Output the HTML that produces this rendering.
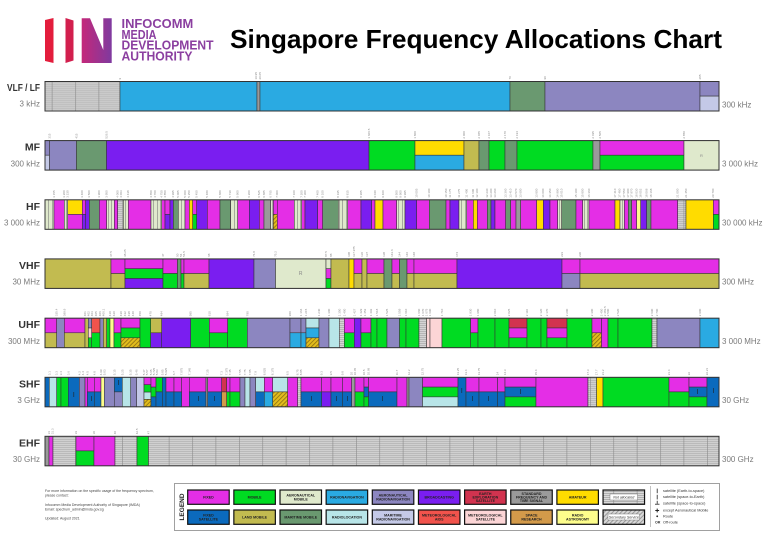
<!DOCTYPE html>
<html><head><meta charset="utf-8"><title>Singapore Frequency Allocations Chart</title>
<style>
html,body{margin:0;padding:0;background:#fff}
svg{display:block;font-family:"Liberation Sans",Arial,sans-serif}
.F{fill:#e42ee6}.M{fill:#00db22}.AM{fill:#dfe9cc}.RN{fill:#2aaae2}.AR{fill:#8c86c0}.B{fill:#7a1ef0}.EE{fill:#d2334f}.SF{fill:#9a9a9a}.A{fill:#ffdc00}.FS{fill:#0b6abd}.LM{fill:#c2bb50}.MM{fill:#6a9970}.RL{fill:#b8e5e8}.MR{fill:#c4c9e7}.MA{fill:#f1534c}.MS{fill:#fcd5d6}.SR{fill:#d39a4a}.RA{fill:#fdfd8c}.NA{fill:url(#na)}.SS{fill:url(#ss)}.AMs{fill:url(#ams)}
.bar rect{stroke:#333;stroke-width:.55}
.t{font-size:3px;fill:#8a8a8a}
.rl{font-size:10.5px;font-weight:bold;fill:#333;text-anchor:end}
.fl{font-size:8px;fill:#7a7a7a;text-anchor:end}
.fr{font-size:8px;fill:#7a7a7a}
.lg rect.sw{stroke:#111;stroke-width:1.2}
.lt{font-size:3.6px;font-weight:bold;fill:#222;text-anchor:middle}
.nt{font-size:3.8px;fill:#333}
.it{font-size:3.5px;fill:#444}
</style></head><body>
<svg width="768" height="543" viewBox="0 0 768 543" xmlns="http://www.w3.org/2000/svg">
<defs>
<pattern id="na" x="5" width="23.4" height="2" patternUnits="userSpaceOnUse"><rect width="23.4" height="2" fill="#dadada"/><rect y="1" width="23.4" height="0.8" fill="#a6a6a6"/><rect width="0.6" height="2" fill="#8a8a8a"/></pattern>
<pattern id="ss" width="3" height="3" patternUnits="userSpaceOnUse" patternTransform="rotate(45)"><rect width="3" height="3" fill="#e2bd1c"/><rect width="0.8" height="3" fill="#8b6d12"/></pattern>
<pattern id="sg" width="3" height="3" patternUnits="userSpaceOnUse" patternTransform="rotate(45)"><rect width="3" height="3" fill="#d8d8d8"/><rect width="0.8" height="3" fill="#8a8a8a"/></pattern>
<pattern id="ams" width="3.5" height="10" patternUnits="userSpaceOnUse"><rect width="3.5" height="10" fill="#dfe9cc"/><rect x="3" width="0.5" height="10" fill="#6b6b6b"/></pattern>
<linearGradient id="mg" x1="0" y1="0" x2="1" y2="0"><stop offset="0" stop-color="#c4287a"/><stop offset="1" stop-color="#7f3a9f"/></linearGradient>
</defs>

<!-- Logo -->
<polygon points="45,20 53.5,18 53.5,63 45,61" fill="#e31d3c"/>
<polygon points="65.5,18 73.5,20.5 73.5,60.5 65.5,63" fill="#d21f4e"/>
<polygon points="81.7,18.3 90,18.3 103.3,50 103.3,18.3 111.7,18.3 111.7,63 81.7,63" fill="url(#mg)"/>
<g font-weight="bold" font-size="13" fill="#8b3fa0">
<text x="121.5" y="28" textLength="71.7" lengthAdjust="spacingAndGlyphs">INFOCOMM</text>
<text x="121.5" y="38.8" textLength="35" lengthAdjust="spacingAndGlyphs">MEDIA</text>
<text x="121.5" y="49.6" textLength="92" lengthAdjust="spacingAndGlyphs">DEVELOPMENT</text>
<text x="121.5" y="60.4" textLength="71" lengthAdjust="spacingAndGlyphs">AUTHORITY</text>
</g>
<text x="230" y="48" font-size="26" font-weight="bold" fill="#000" textLength="492" lengthAdjust="spacingAndGlyphs">Singapore Frequency Allocations Chart</text>

<!-- Row labels -->
<text class="rl" x="40" y="91" textLength="33" lengthAdjust="spacingAndGlyphs">VLF / LF</text>
<text class="fl" x="40" y="106.5">3 kHz</text>
<text class="fr" x="722" y="107.3">300 kHz</text>
<text class="rl" x="40" y="150.6">MF</text>
<text class="fl" x="40" y="166.4">300 kHz</text>
<text class="fr" x="722" y="166.4">3 000 kHz</text>
<text class="rl" x="40" y="209.8">HF</text>
<text class="fl" x="40" y="225.6">3 000 kHz</text>
<text class="fr" x="722" y="225.6">30 000 kHz</text>
<text class="rl" x="40" y="268.9">VHF</text>
<text class="fl" x="40" y="284.7">30 MHz</text>
<text class="fr" x="722" y="284.7">300 MHz</text>
<text class="rl" x="40" y="328.2">UHF</text>
<text class="fl" x="40" y="344">300 MHz</text>
<text class="fr" x="722" y="344">3 000 MHz</text>
<text class="rl" x="40" y="387.3">SHF</text>
<text class="fl" x="40" y="403.1">3 GHz</text>
<text class="fr" x="722" y="403.1">30 GHz</text>
<text class="rl" x="40" y="446.3">EHF</text>
<text class="fl" x="40" y="462.1">30 GHz</text>
<text class="fr" x="722" y="462.1">300 GHz</text>

<!-- VLF/LF -->
<g class="bar" transform="translate(0,81.5)">
<rect class="NA" x="45" width="75" height="29.5"/>
<rect class="RN" x="120" width="137" height="29.5"/>
<rect class="SF" x="257" width="3" height="29.5"/>
<rect class="RN" x="260" width="250" height="29.5"/>
<rect class="MM" x="510" width="35" height="29.5"/>
<rect class="AR" x="545" width="155" height="29.5"/>
<rect class="AR" x="700" width="19" height="14.6"/>
<rect class="MR" x="700" y="14.6" width="19" height="14.9"/>
<rect x="45" width="674" height="29.5" fill="none" style="stroke-width:1"/>
</g>
<g class="t">
<text transform="translate(121,79.5) rotate(-90)">9</text>
<text transform="translate(257,79.5) rotate(-90)">19.95</text>
<text transform="translate(261,79.5) rotate(-90)">20.05</text>
<text transform="translate(511,79.5) rotate(-90)">70</text>
<text transform="translate(546,79.5) rotate(-90)">90</text>
<text transform="translate(701,79.5) rotate(-90)">285</text>
</g>

<!-- MF -->
<g class="bar" transform="translate(0,140.6)">
<rect class="AR" x="45" width="4.5" height="14.6"/>
<rect class="MR" x="45" y="14.6" width="4.5" height="14.9"/>
<rect class="AR" x="49.5" width="27" height="29.5"/>
<rect class="MM" x="76.5" width="30" height="29.5"/>
<rect class="B" x="106.5" width="262.5" height="29.5"/>
<rect class="M" x="369" width="46" height="29.5"/>
<rect class="A" x="415" width="49" height="14.6"/>
<rect class="RN" x="415" y="14.6" width="49" height="14.9"/>
<rect class="LM" x="464" width="15" height="29.5"/>
<rect class="MM" x="479" width="10" height="29.5"/>
<rect class="M" x="489" width="16" height="29.5"/>
<rect class="MM" x="505" width="12" height="29.5"/>
<rect class="M" x="517" width="76" height="29.5"/>
<rect class="SF" x="593" width="7" height="29.5"/>
<rect class="F" x="600" width="84" height="14.6"/>
<rect class="M" x="600" y="14.6" width="84" height="14.9"/>
<rect class="AM" x="684" width="35" height="29.5"/>
<rect x="45" width="674" height="29.5" fill="none" style="stroke-width:1"/>
</g>
<text x="701.5" y="157" font-size="4" fill="#888" text-anchor="middle">R</text>
<g class="t">
<text transform="translate(50.5,138.6) rotate(-90)">315</text>
<text transform="translate(77.5,138.6) rotate(-90)">415</text>
<text transform="translate(107.5,138.6) rotate(-90)">526.5</text>
<text transform="translate(370,138.6) rotate(-90)">1 606.5</text>
<text transform="translate(416,138.6) rotate(-90)">1 800</text>
<text transform="translate(465,138.6) rotate(-90)">2 000</text>
<text transform="translate(480,138.6) rotate(-90)">2 065</text>
<text transform="translate(490,138.6) rotate(-90)">2 107</text>
<text transform="translate(506,138.6) rotate(-90)">2 170</text>
<text transform="translate(518,138.6) rotate(-90)">2 194</text>
<text transform="translate(594,138.6) rotate(-90)">2 495</text>
<text transform="translate(601,138.6) rotate(-90)">2 505</text>
<text transform="translate(685,138.6) rotate(-90)">2 850</text>
</g>

<!-- HF -->
<g class="bar" transform="translate(0,199.8)">
<rect class="AMs" x="45" width="9" height="29.5"/>
<rect class="F" x="54" width="10.3" height="29.5"/>
<rect class="AMs" x="64.3" width="3.4" height="29.5"/>
<rect class="A" x="67.7" width="14.6" height="14.6"/>
<rect class="F" x="67.7" y="14.6" width="14.6" height="14.9"/>
<rect class="F" x="82.3" width="3.4" height="14.6"/>
<rect class="B" x="82.3" y="14.6" width="3.4" height="14.9"/>
<rect class="B" x="85.7" width="3.6" height="29.5"/>
<rect class="MM" x="89.3" width="10" height="29.5"/>
<rect class="F" x="99.3" width="7.4" height="29.5"/>
<rect class="AMs" x="106.7" width="7.6" height="29.5"/>
<rect class="F" x="114.3" width="3.4" height="29.5"/>
<rect class="NA" x="117.7" width="5.6" height="29.5"/>
<rect class="AMs" x="123.3" width="5" height="29.5"/>
<rect class="F" x="128.3" width="22.7" height="29.5"/>
<rect class="AMs" x="151" width="10.7" height="29.5"/>
<rect class="F" x="161.7" width="3.3" height="29.5"/>
<rect class="F" x="165" width="5" height="14.6"/>
<rect class="B" x="165" y="14.6" width="5" height="14.9"/>
<rect class="B" x="170" width="3.3" height="29.5"/>
<rect class="MM" x="173.3" width="5" height="29.5"/>
<rect class="AMs" x="178.3" width="6.7" height="29.5"/>
<rect class="F" x="185" width="4.3" height="29.5"/>
<rect class="A" x="189.3" width="3.4" height="29.5"/>
<rect class="F" x="192.7" width="4" height="14.6"/>
<rect class="M" x="192.7" y="14.6" width="4" height="14.9"/>
<rect class="B" x="196.7" width="10.6" height="29.5"/>
<rect class="F" x="207.3" width="12.7" height="29.5"/>
<rect class="MM" x="220" width="10.3" height="29.5"/>
<rect class="AMs" x="230.3" width="7.4" height="29.5"/>
<rect class="F" x="237.7" width="11.6" height="29.5"/>
<rect class="B" x="249.3" width="10" height="29.5"/>
<rect class="F" x="259.3" width="4.7" height="29.5"/>
<rect class="SF" x="264" width="6.7" height="29.5"/>
<rect class="AMs" x="270.7" width="2.6" height="29.5"/>
<rect class="F" x="273.3" width="4" height="14.6"/>
<rect class="SS" x="273.3" y="14.6" width="4" height="14.9"/>
<rect class="F" x="277.3" width="17" height="29.5"/>
<rect class="AMs" x="294.3" width="7.4" height="29.5"/>
<rect class="F" x="301.7" width="3.3" height="29.5"/>
<rect class="B" x="305" width="12.7" height="29.5"/>
<rect class="F" x="317.7" width="5" height="29.5"/>
<rect class="MM" x="322.7" width="15.6" height="29.5"/>
<rect class="AMs" x="338.3" width="9.4" height="29.5"/>
<rect class="F" x="347.7" width="13.3" height="29.5"/>
<rect class="B" x="361" width="10.7" height="29.5"/>
<rect class="F" x="371.7" width="3.3" height="29.5"/>
<rect class="A" x="375" width="8" height="29.5"/>
<rect class="F" x="383" width="13.7" height="29.5"/>
<rect class="AMs" x="396.7" width="8.3" height="29.5"/>
<rect class="B" x="405" width="11.7" height="29.5"/>
<rect class="F" x="416.7" width="12.6" height="29.5"/>
<rect class="MM" x="429.3" width="16.7" height="29.5"/>
<rect class="F" x="446" width="4" height="29.5"/>
<rect class="B" x="450" width="9" height="29.5"/>
<rect class="AMs" x="459" width="7.7" height="29.5"/>
<rect class="F" x="466.7" width="6.6" height="29.5"/>
<rect class="A" x="473.3" width="4" height="29.5"/>
<rect class="F" x="477.3" width="10" height="29.5"/>
<rect class="MM" x="487.3" width="3.7" height="29.5"/>
<rect class="B" x="491" width="4" height="29.5"/>
<rect class="F" x="495" width="10.7" height="29.5"/>
<rect class="MM" x="505.7" width="5" height="29.5"/>
<rect class="F" x="510.7" width="5.3" height="29.5"/>
<rect class="SF" x="516" width="4.7" height="29.5"/>
<rect class="F" x="520.7" width="16" height="29.5"/>
<rect class="A" x="536.7" width="6.6" height="29.5"/>
<rect class="B" x="543.3" width="6.7" height="29.5"/>
<rect class="F" x="550" width="7.7" height="29.5"/>
<rect class="AMs" x="557.7" width="4" height="29.5"/>
<rect class="MM" x="561.7" width="14.3" height="29.5"/>
<rect class="F" x="576" width="6.7" height="29.5"/>
<rect class="AMs" x="582.7" width="6.3" height="29.5"/>
<rect class="F" x="589" width="26" height="29.5"/>
<rect class="A" x="615" width="5" height="29.5"/>
<rect class="AMs" x="620" width="4.3" height="29.5"/>
<rect class="F" x="624.3" width="4" height="29.5"/>
<rect class="MM" x="628.3" width="3.4" height="29.5"/>
<rect class="F" x="631.7" width="5" height="29.5"/>
<rect class="RA" x="636.7" width="4" height="29.5"/>
<rect class="B" x="640.7" width="6" height="29.5"/>
<rect class="MM" x="646.7" width="4.3" height="29.5"/>
<rect class="F" x="651" width="26.7" height="29.5"/>
<rect class="NA" x="677.7" width="8.3" height="29.5"/>
<rect class="A" x="686" width="27.3" height="29.5"/>
<rect class="F" x="713.3" width="5.7" height="14.6"/>
<rect class="M" x="713.3" y="14.6" width="5.7" height="14.9"/>
<rect x="45" width="674" height="29.5" fill="none" style="stroke-width:1"/>
</g>
<g class="t">
<text transform="translate(55,197.8) rotate(-90)">3 155</text>
<text transform="translate(65,197.8) rotate(-90)">3 200</text>
<text transform="translate(68.5,197.8) rotate(-90)">3 230</text>
<text transform="translate(83,197.8) rotate(-90)">3 400</text>
<text transform="translate(90,197.8) rotate(-90)">3 500</text>
<text transform="translate(100,197.8) rotate(-90)">3 900</text>
<text transform="translate(107.5,197.8) rotate(-90)">3 950</text>
<text transform="translate(118.5,197.8) rotate(-90)">4 000</text>
<text transform="translate(122,197.8) rotate(-90)">4 063</text>
<text transform="translate(129,197.8) rotate(-90)">4 438</text>
<text transform="translate(152,197.8) rotate(-90)">4 650</text>
<text transform="translate(156,197.8) rotate(-90)">4 700</text>
<text transform="translate(162.5,197.8) rotate(-90)">4 750</text>
<text transform="translate(166,197.8) rotate(-90)">4 850</text>
<text transform="translate(174,197.8) rotate(-90)">4 995</text>
<text transform="translate(179,197.8) rotate(-90)">5 005</text>
<text transform="translate(186,197.8) rotate(-90)">5 060</text>
<text transform="translate(190,197.8) rotate(-90)">5 250</text>
<text transform="translate(197.5,197.8) rotate(-90)">5 450</text>
<text transform="translate(208,197.8) rotate(-90)">5 480</text>
<text transform="translate(221,197.8) rotate(-90)">5 680</text>
<text transform="translate(231,197.8) rotate(-90)">5 730</text>
<text transform="translate(238.5,197.8) rotate(-90)">5 900</text>
<text transform="translate(250,197.8) rotate(-90)">6 200</text>
<text transform="translate(260,197.8) rotate(-90)">6 525</text>
<text transform="translate(265,197.8) rotate(-90)">6 685</text>
<text transform="translate(271.5,197.8) rotate(-90)">6 765</text>
<text transform="translate(278,197.8) rotate(-90)">7 000</text>
<text transform="translate(295,197.8) rotate(-90)">7 100</text>
<text transform="translate(302.5,197.8) rotate(-90)">7 200</text>
<text transform="translate(306,197.8) rotate(-90)">7 300</text>
<text transform="translate(318.5,197.8) rotate(-90)">7 400</text>
<text transform="translate(323.5,197.8) rotate(-90)">8 100</text>
<text transform="translate(339,197.8) rotate(-90)">8 195</text>
<text transform="translate(348.5,197.8) rotate(-90)">8 815</text>
<text transform="translate(362,197.8) rotate(-90)">8 965</text>
<text transform="translate(376,197.8) rotate(-90)">9 040</text>
<text transform="translate(384,197.8) rotate(-90)">9 400</text>
<text transform="translate(397.5,197.8) rotate(-90)">9 500</text>
<text transform="translate(401.5,197.8) rotate(-90)">9 900</text>
<text transform="translate(406,197.8) rotate(-90)">9 995</text>
<text transform="translate(417.5,197.8) rotate(-90)">10 005</text>
<text transform="translate(430,197.8) rotate(-90)">10 100</text>
<text transform="translate(447,197.8) rotate(-90)">10 150</text>
<text transform="translate(451,197.8) rotate(-90)">11 175</text>
<text transform="translate(460,197.8) rotate(-90)">11 275</text>
<text transform="translate(467.5,197.8) rotate(-90)">11 400</text>
<text transform="translate(474,197.8) rotate(-90)">11 600</text>
<text transform="translate(478,197.8) rotate(-90)">12 100</text>
<text transform="translate(488,197.8) rotate(-90)">12 230</text>
<text transform="translate(492,197.8) rotate(-90)">13 200</text>
<text transform="translate(496,197.8) rotate(-90)">13 260</text>
<text transform="translate(506.5,197.8) rotate(-90)">13 360</text>
<text transform="translate(511.5,197.8) rotate(-90)">13 410</text>
<text transform="translate(517,197.8) rotate(-90)">13 570</text>
<text transform="translate(521.5,197.8) rotate(-90)">13 600</text>
<text transform="translate(537.5,197.8) rotate(-90)">13 800</text>
<text transform="translate(544,197.8) rotate(-90)">14 000</text>
<text transform="translate(551,197.8) rotate(-90)">14 350</text>
<text transform="translate(558.5,197.8) rotate(-90)">14 990</text>
<text transform="translate(562.5,197.8) rotate(-90)">15 010</text>
<text transform="translate(577,197.8) rotate(-90)">15 100</text>
<text transform="translate(583.5,197.8) rotate(-90)">15 800</text>
<text transform="translate(590,197.8) rotate(-90)">16 360</text>
<text transform="translate(616,197.8) rotate(-90)">17 410</text>
<text transform="translate(620.5,197.8) rotate(-90)">17 480</text>
<text transform="translate(625,197.8) rotate(-90)">17 550</text>
<text transform="translate(629,197.8) rotate(-90)">17 900</text>
<text transform="translate(632.5,197.8) rotate(-90)">17 970</text>
<text transform="translate(637.5,197.8) rotate(-90)">18 030</text>
<text transform="translate(641.5,197.8) rotate(-90)">18 052</text>
<text transform="translate(647.5,197.8) rotate(-90)">18 068</text>
<text transform="translate(652,197.8) rotate(-90)">18 168</text>
<text transform="translate(678.5,197.8) rotate(-90)">21 000</text>
<text transform="translate(687,197.8) rotate(-90)">21 450</text>
<text transform="translate(714,197.8) rotate(-90)">29 700</text>
</g>

<!-- VHF -->
<g class="bar" transform="translate(0,258.9)">
<rect class="LM" x="45" width="66" height="29.5"/>
<rect class="F" x="111" width="14" height="14.6"/>
<rect class="LM" x="111" y="14.6" width="14" height="14.9"/>
<rect class="F" x="125" width="38" height="9.8"/>
<rect class="M" x="125" y="9.8" width="38" height="9.8"/>
<rect class="B" x="125" y="19.6" width="38" height="9.9"/>
<rect class="F" x="163" width="14.5" height="14.6"/>
<rect class="M" x="163" y="14.6" width="14.5" height="14.9"/>
<rect class="MM" x="177.5" width="3.5" height="29.5"/>
<rect class="F" x="181" width="3" height="14.6"/>
<rect class="M" x="181" y="14.6" width="3" height="14.9"/>
<rect class="F" x="184" width="25" height="14.6"/>
<rect class="LM" x="184" y="14.6" width="25" height="14.9"/>
<rect class="B" x="209" width="45" height="29.5"/>
<rect class="AR" x="254" width="21.5" height="29.5"/>
<rect class="AM" x="275.5" width="50.5" height="29.5"/>
<rect class="AM" x="326" width="5" height="9.8"/>
<rect class="F" x="326" y="9.8" width="5" height="9.8"/>
<rect class="M" x="326" y="19.6" width="5" height="9.9"/>
<rect class="LM" x="331" width="18" height="29.5"/>
<rect class="A" x="349" width="5" height="29.5"/>
<rect class="F" x="354" width="8" height="14.6"/>
<rect class="LM" x="354" y="14.6" width="8" height="14.9"/>
<rect class="LM" x="362" width="5" height="29.5"/>
<rect class="F" x="367" width="17" height="14.6"/>
<rect class="LM" x="367" y="14.6" width="17" height="14.9"/>
<rect class="MM" x="384" width="8" height="29.5"/>
<rect class="F" x="392" width="7.5" height="14.6"/>
<rect class="LM" x="392" y="14.6" width="7.5" height="14.9"/>
<rect class="MM" x="399.5" width="7.5" height="29.5"/>
<rect class="F" x="407" width="7" height="14.6"/>
<rect class="LM" x="407" y="14.6" width="7" height="14.9"/>
<rect class="F" x="414" width="43" height="14.6"/>
<rect class="LM" x="414" y="14.6" width="43" height="14.9"/>
<rect class="B" x="457" width="105" height="29.5"/>
<rect class="F" x="562" width="18" height="14.6"/>
<rect class="AR" x="562" y="14.6" width="18" height="14.9"/>
<rect class="F" x="580" width="139" height="14.6"/>
<rect class="LM" x="580" y="14.6" width="139" height="14.9"/>
<rect x="45" width="674" height="29.5" fill="none" style="stroke-width:1"/>
</g>
<text x="300.7" y="275" font-size="5" fill="#888" text-anchor="middle">R</text>
<g class="t">
<text transform="translate(112,256.9) rotate(-90)">37.5</text>
<text transform="translate(126,256.9) rotate(-90)">38.25</text>
<text transform="translate(164,256.9) rotate(-90)">47</text>
<text transform="translate(178.5,256.9) rotate(-90)">50</text>
<text transform="translate(182,256.9) rotate(-90)">54</text>
<text transform="translate(185,256.9) rotate(-90)">54.5</text>
<text transform="translate(210,256.9) rotate(-90)">68</text>
<text transform="translate(255,256.9) rotate(-90)">74.8</text>
<text transform="translate(276.5,256.9) rotate(-90)">75.2</text>
<text transform="translate(327,256.9) rotate(-90)">87.5</text>
<text transform="translate(332,256.9) rotate(-90)">88</text>
<text transform="translate(350,256.9) rotate(-90)">108</text>
<text transform="translate(355,256.9) rotate(-90)">117.975</text>
<text transform="translate(363,256.9) rotate(-90)">136</text>
<text transform="translate(368,256.9) rotate(-90)">137</text>
<text transform="translate(385,256.9) rotate(-90)">138</text>
<text transform="translate(393,256.9) rotate(-90)">143.6</text>
<text transform="translate(400.5,256.9) rotate(-90)">144</text>
<text transform="translate(408,256.9) rotate(-90)">146</text>
<text transform="translate(415,256.9) rotate(-90)">148</text>
<text transform="translate(458,256.9) rotate(-90)">174</text>
<text transform="translate(563,256.9) rotate(-90)">223</text>
<text transform="translate(581,256.9) rotate(-90)">230</text>
</g>

<!-- UHF -->
<g class="bar" transform="translate(0,318.2)">
<rect class="F" x="45" width="11.7" height="14.6"/>
<rect class="LM" x="45" y="14.6" width="11.7" height="14.9"/>
<rect class="AR" x="56.7" width="7.6" height="29.5"/>
<rect class="F" x="64.3" width="20.7" height="14.6"/>
<rect class="LM" x="64.3" y="14.6" width="20.7" height="14.9"/>
<rect class="LM" x="85" width="3.3" height="29.5"/>
<rect class="AR" x="88.3" width="3.4" height="9.8"/>
<rect class="MS" x="88.3" y="9.8" width="3.4" height="9.8"/>
<rect class="M" x="88.3" y="19.6" width="3.4" height="9.9"/>
<rect class="MA" x="91.7" width="8.3" height="14.6"/>
<rect class="M" x="91.7" y="14.6" width="8.3" height="14.9"/>
<rect class="AR" x="100" width="3.3" height="29.5"/>
<rect class="LM" x="103.3" width="3.4" height="29.5"/>
<rect class="M" x="106.7" width="3.3" height="29.5"/>
<rect class="RA" x="110" width="4" height="29.5"/>
<rect class="F" x="114" width="7" height="14.6"/>
<rect class="M" x="114" y="14.6" width="7" height="14.9"/>
<rect class="F" x="121" width="19" height="9.8"/>
<rect class="M" x="121" y="9.8" width="19" height="9.8"/>
<rect class="SS" x="121" y="19.6" width="19" height="9.9"/>
<rect class="M" x="140" width="10.7" height="29.5"/>
<rect class="LM" x="150.7" width="11" height="14.6"/>
<rect class="B" x="150.7" y="14.6" width="11" height="14.9"/>
<rect class="B" x="161.7" width="29" height="29.5"/>
<rect class="M" x="190.7" width="18.6" height="29.5"/>
<rect class="F" x="209.3" width="18.4" height="14.6"/>
<rect class="M" x="209.3" y="14.6" width="18.4" height="14.9"/>
<rect class="M" x="227.7" width="19.6" height="29.5"/>
<rect class="AR" x="247.3" width="42.7" height="29.5"/>
<rect class="AR" x="290" width="11" height="14.6"/>
<rect class="RN" x="290" y="14.6" width="11" height="14.9"/>
<rect class="AR" x="301" width="5" height="14.6"/>
<rect class="RN" x="301" y="14.6" width="5" height="14.9"/>
<rect class="RL" x="306" width="13" height="9.8"/>
<rect class="RN" x="306" y="9.8" width="13" height="9.8"/>
<rect class="SS" x="306" y="19.6" width="13" height="9.9"/>
<rect class="AR" x="319" width="10" height="29.5"/>
<rect class="RL" x="329" width="10.3" height="29.5"/>
<rect class="NA" x="339.3" width="5" height="29.5"/>
<rect class="F" x="344.3" width="10" height="14.6"/>
<rect class="M" x="344.3" y="14.6" width="10" height="14.9"/>
<rect class="B" x="354.3" width="6.7" height="29.5"/>
<rect class="F" x="361" width="10" height="14.6"/>
<rect class="M" x="361" y="14.6" width="10" height="14.9"/>
<rect class="M" x="371" width="6" height="29.5"/>
<rect class="M" x="377" width="10" height="29.5"/>
<rect class="AR" x="387" width="12.5" height="29.5"/>
<rect class="M" x="399.5" width="6.5" height="29.5"/>
<rect class="M" x="406" width="13" height="29.5"/>
<rect class="NA" x="419" width="7.5" height="29.5"/>
<rect class="MS" x="426.5" width="3.5" height="29.5"/>
<rect class="MS" x="430" width="12" height="29.5"/>
<rect class="M" x="442" width="28.6" height="29.5"/>
<rect class="F" x="470.6" width="7.4" height="14.6"/>
<rect class="M" x="470.6" y="14.6" width="7.4" height="14.9"/>
<rect class="M" x="478" width="17" height="29.5"/>
<rect class="M" x="495" width="14" height="29.5"/>
<rect class="EE" x="509" width="18" height="9.8"/>
<rect class="F" x="509" y="9.8" width="18" height="9.8"/>
<rect class="M" x="509" y="19.6" width="18" height="9.9"/>
<rect class="M" x="527" width="14" height="29.5"/>
<rect class="M" x="541" width="6" height="29.5"/>
<rect class="EE" x="547" width="20" height="9.8"/>
<rect class="F" x="547" y="9.8" width="20" height="9.8"/>
<rect class="M" x="547" y="19.6" width="20" height="9.9"/>
<rect class="M" x="567" width="25" height="29.5"/>
<rect class="F" x="592" width="9.5" height="14.6"/>
<rect class="SS" x="592" y="14.6" width="9.5" height="14.9"/>
<rect class="F" x="601.5" width="6.5" height="29.5"/>
<rect class="M" x="608" width="10" height="29.5"/>
<rect class="M" x="618" width="34" height="29.5"/>
<rect class="NA" x="652" width="5" height="29.5"/>
<rect class="AR" x="657" width="43" height="29.5"/>
<rect class="RN" x="700" width="19" height="29.5"/>
<rect x="45" width="674" height="29.5" fill="none" style="stroke-width:1"/>
</g>
<g class="t">
<text transform="translate(57.7,316.2) rotate(-90)">335.4</text>
<text transform="translate(65.3,316.2) rotate(-90)">399.9</text>
<text transform="translate(86,316.2) rotate(-90)">401</text>
<text transform="translate(89.5,316.2) rotate(-90)">402</text>
<text transform="translate(93,316.2) rotate(-90)">403</text>
<text transform="translate(97,316.2) rotate(-90)">405</text>
<text transform="translate(101,316.2) rotate(-90)">406</text>
<text transform="translate(104.5,316.2) rotate(-90)">406.1</text>
<text transform="translate(111,316.2) rotate(-90)">410</text>
<text transform="translate(115,316.2) rotate(-90)">420</text>
<text transform="translate(122,316.2) rotate(-90)">430</text>
<text transform="translate(126,316.2) rotate(-90)">432</text>
<text transform="translate(130,316.2) rotate(-90)">438</text>
<text transform="translate(134,316.2) rotate(-90)">440</text>
<text transform="translate(141,316.2) rotate(-90)">450</text>
<text transform="translate(151.7,316.2) rotate(-90)">470</text>
<text transform="translate(162.7,316.2) rotate(-90)">494</text>
<text transform="translate(191.7,316.2) rotate(-90)">585</text>
<text transform="translate(210.3,316.2) rotate(-90)">610</text>
<text transform="translate(228.7,316.2) rotate(-90)">694</text>
<text transform="translate(248.3,316.2) rotate(-90)">790</text>
<text transform="translate(291,316.2) rotate(-90)">960</text>
<text transform="translate(302,316.2) rotate(-90)">1 164</text>
<text transform="translate(307,316.2) rotate(-90)">1 215</text>
<text transform="translate(320,316.2) rotate(-90)">1 240</text>
<text transform="translate(330,316.2) rotate(-90)">1 300</text>
<text transform="translate(340.3,316.2) rotate(-90)">1 350</text>
<text transform="translate(345.3,316.2) rotate(-90)">1 400</text>
<text transform="translate(355.3,316.2) rotate(-90)">1 427</text>
<text transform="translate(362,316.2) rotate(-90)">1 429</text>
<text transform="translate(366,316.2) rotate(-90)">1 452</text>
<text transform="translate(372,316.2) rotate(-90)">1 492</text>
<text transform="translate(378,316.2) rotate(-90)">1 518</text>
<text transform="translate(388,316.2) rotate(-90)">1 525</text>
<text transform="translate(400.5,316.2) rotate(-90)">1 559</text>
<text transform="translate(407,316.2) rotate(-90)">1 610</text>
<text transform="translate(420,316.2) rotate(-90)">1 660</text>
<text transform="translate(424,316.2) rotate(-90)">1 670</text>
<text transform="translate(427.5,316.2) rotate(-90)">1 675</text>
<text transform="translate(431,316.2) rotate(-90)">1 690</text>
<text transform="translate(443,316.2) rotate(-90)">1 710</text>
<text transform="translate(471.6,316.2) rotate(-90)">1 930</text>
<text transform="translate(479,316.2) rotate(-90)">1 980</text>
<text transform="translate(496,316.2) rotate(-90)">2 010</text>
<text transform="translate(510,316.2) rotate(-90)">2 025</text>
<text transform="translate(528,316.2) rotate(-90)">2 110</text>
<text transform="translate(542,316.2) rotate(-90)">2 120</text>
<text transform="translate(548,316.2) rotate(-90)">2 170</text>
<text transform="translate(568,316.2) rotate(-90)">2 200</text>
<text transform="translate(593,316.2) rotate(-90)">2 300</text>
<text transform="translate(602.5,316.2) rotate(-90)">2 450</text>
<text transform="translate(606,316.2) rotate(-90)">2 483.5</text>
<text transform="translate(609,316.2) rotate(-90)">2 500</text>
<text transform="translate(619,316.2) rotate(-90)">2 520</text>
<text transform="translate(653,316.2) rotate(-90)">2 690</text>
<text transform="translate(658,316.2) rotate(-90)">2 700</text>
<text transform="translate(701,316.2) rotate(-90)">2 900</text>
</g>

<!-- SHF -->
<g class="bar" transform="translate(0,377.3)">
<rect class="FS" x="45" width="4.3" height="29.5"/>
<rect class="RL" x="49.3" width="7.4" height="29.5"/>
<rect class="M" x="56.7" width="4.3" height="29.5"/>
<rect class="M" x="61" width="7.3" height="29.5"/>
<rect class="FS" x="68.3" width="11" height="29.5"/>
<rect class="AR" x="79.3" width="5.7" height="29.5"/>
<rect class="F" x="85" width="2.3" height="29.5"/>
<rect class="F" x="87.3" width="7" height="14.6"/>
<rect class="FS" x="87.3" y="14.6" width="7" height="14.9"/>
<rect class="F" x="94.3" width="6.7" height="14.6"/>
<rect class="FS" x="94.3" y="14.6" width="6.7" height="14.9"/>
<rect class="RA" x="101" width="3.3" height="29.5"/>
<rect class="AR" x="104.3" width="10" height="29.5"/>
<rect class="FS" x="114.3" width="8" height="14.6"/>
<rect class="AR" x="114.3" y="14.6" width="8" height="14.9"/>
<rect class="RL" x="122.3" width="8.4" height="29.5"/>
<rect class="AR" x="130.7" width="6" height="29.5"/>
<rect class="MR" x="136.7" width="7.3" height="29.5"/>
<rect class="F" x="144" width="7" height="7.4"/>
<rect class="M" x="144" y="7.4" width="7" height="7.4"/>
<rect class="RL" x="144" y="14.8" width="7" height="7.3"/>
<rect class="SS" x="144" y="22.1" width="7" height="7.4"/>
<rect class="F" x="151" width="5" height="9.8"/>
<rect class="M" x="151" y="9.8" width="5" height="9.8"/>
<rect class="FS" x="151" y="19.6" width="5" height="9.9"/>
<rect class="M" x="156" width="6.3" height="14.6"/>
<rect class="FS" x="156" y="14.6" width="6.3" height="14.9"/>
<rect class="FS" x="162.3" width="3.7" height="29.5"/>
<rect class="F" x="166" width="8" height="14.6"/>
<rect class="FS" x="166" y="14.6" width="8" height="14.9"/>
<rect class="F" x="174" width="7.7" height="14.6"/>
<rect class="FS" x="174" y="14.6" width="7.7" height="14.9"/>
<rect class="F" x="181.7" width="7.6" height="29.5"/>
<rect class="F" x="189.3" width="16.7" height="14.6"/>
<rect class="FS" x="189.3" y="14.6" width="16.7" height="14.9"/>
<rect class="SF" x="206" width="1.7" height="29.5"/>
<rect class="F" x="207.7" width="14" height="14.6"/>
<rect class="FS" x="207.7" y="14.6" width="14" height="14.9"/>
<rect class="EE" x="221.7" width="5" height="14.6"/>
<rect class="SR" x="221.7" y="14.6" width="5" height="14.9"/>
<rect class="F" x="226.7" width="3.3" height="14.6"/>
<rect class="M" x="226.7" y="14.6" width="3.3" height="14.9"/>
<rect class="F" x="230" width="10" height="14.6"/>
<rect class="M" x="230" y="14.6" width="10" height="14.9"/>
<rect class="AR" x="240" width="5" height="29.5"/>
<rect class="RL" x="245" width="5" height="29.5"/>
<rect class="AR" x="250" width="5.7" height="29.5"/>
<rect class="RL" x="255.7" width="8.6" height="14.6"/>
<rect class="FS" x="255.7" y="14.6" width="8.6" height="14.9"/>
<rect class="F" x="264.3" width="8.4" height="14.6"/>
<rect class="RN" x="264.3" y="14.6" width="8.4" height="14.9"/>
<rect class="RL" x="272.7" width="15" height="14.6"/>
<rect class="SS" x="272.7" y="14.6" width="15" height="14.9"/>
<rect class="F" x="287.7" width="10" height="29.5"/>
<rect class="NA" x="297.7" width="3.3" height="29.5"/>
<rect class="F" x="301" width="20.7" height="14.6"/>
<rect class="FS" x="301" y="14.6" width="20.7" height="14.9"/>
<rect class="F" x="321.7" width="9.3" height="14.6"/>
<rect class="B" x="321.7" y="14.6" width="9.3" height="14.9"/>
<rect class="F" x="331" width="11.7" height="14.6"/>
<rect class="FS" x="331" y="14.6" width="11.7" height="14.9"/>
<rect class="F" x="342.7" width="9" height="14.6"/>
<rect class="FS" x="342.7" y="14.6" width="9" height="14.9"/>
<rect class="SF" x="351.7" width="3.3" height="29.5"/>
<rect class="F" x="355" width="9" height="14.6"/>
<rect class="M" x="355" y="14.6" width="9" height="14.9"/>
<rect class="F" x="364" width="4.6" height="9.8"/>
<rect class="FS" x="364" y="9.8" width="4.6" height="9.8"/>
<rect class="M" x="364" y="19.6" width="4.6" height="9.9"/>
<rect class="F" x="368.6" width="28.4" height="14.6"/>
<rect class="FS" x="368.6" y="14.6" width="28.4" height="14.9"/>
<rect class="F" x="397" width="10" height="29.5"/>
<rect class="SF" x="407" width="2" height="29.5"/>
<rect class="AR" x="409" width="13.5" height="29.5"/>
<rect class="F" x="422.5" width="35.5" height="9.8"/>
<rect class="M" x="422.5" y="9.8" width="35.5" height="9.8"/>
<rect class="RL" x="422.5" y="19.6" width="35.5" height="9.9"/>
<rect class="FS" x="458" width="8" height="29.5"/>
<rect class="F" x="466" width="13" height="14.6"/>
<rect class="FS" x="466" y="14.6" width="13" height="14.9"/>
<rect class="F" x="479" width="18.5" height="14.6"/>
<rect class="FS" x="479" y="14.6" width="18.5" height="14.9"/>
<rect class="F" x="497.5" width="7.5" height="14.6"/>
<rect class="FS" x="497.5" y="14.6" width="7.5" height="14.9"/>
<rect class="F" x="505" width="31" height="9.8"/>
<rect class="FS" x="505" y="9.8" width="31" height="9.8"/>
<rect class="M" x="505" y="19.6" width="31" height="9.9"/>
<rect class="F" x="536" width="52" height="29.5"/>
<rect class="NA" x="588" width="8.6" height="29.5"/>
<rect class="A" x="596.6" width="6.4" height="29.5"/>
<rect class="M" x="603" width="66" height="29.5"/>
<rect class="F" x="669" width="20" height="14.6"/>
<rect class="M" x="669" y="14.6" width="20" height="14.9"/>
<rect class="F" x="689" width="18" height="9.8"/>
<rect class="FS" x="689" y="9.8" width="18" height="9.8"/>
<rect class="M" x="689" y="19.6" width="18" height="9.9"/>
<rect class="FS" x="707" width="12" height="29.5"/>
<rect x="45" width="674" height="29.5" fill="none" style="stroke-width:1"/>
</g>
<g fill="#222">
<rect x="73.5" y="392" width="0.6" height="5"/>
<rect x="91" y="396" width="0.6" height="5"/>
<rect x="118" y="380" width="0.6" height="5"/>
<rect x="198" y="396" width="0.6" height="5"/>
<rect x="214" y="396" width="0.6" height="5"/>
<rect x="311" y="396" width="0.6" height="5"/>
<rect x="336" y="396" width="0.6" height="5"/>
<rect x="347" y="396" width="0.6" height="5"/>
<rect x="382" y="396" width="0.6" height="5"/>
<rect x="461.5" y="388" width="0.6" height="5"/>
<rect x="472" y="396" width="0.6" height="5"/>
<rect x="488" y="396" width="0.6" height="5"/>
<rect x="520" y="389" width="0.6" height="5"/>
<rect x="697" y="389" width="0.6" height="5"/>
<rect x="713" y="388" width="0.6" height="5"/>
</g>
<g class="t">
<text transform="translate(50.3,375.3) rotate(-90)">3.1</text>
<text transform="translate(57.7,375.3) rotate(-90)">3.3</text>
<text transform="translate(62,375.3) rotate(-90)">3.4</text>
<text transform="translate(69.3,375.3) rotate(-90)">3.6</text>
<text transform="translate(80.3,375.3) rotate(-90)">4.2</text>
<text transform="translate(84,375.3) rotate(-90)">4.4</text>
<text transform="translate(88.3,375.3) rotate(-90)">4.5</text>
<text transform="translate(95.3,375.3) rotate(-90)">4.8</text>
<text transform="translate(102,375.3) rotate(-90)">4.99</text>
<text transform="translate(105.3,375.3) rotate(-90)">5.03</text>
<text transform="translate(115.3,375.3) rotate(-90)">5.15</text>
<text transform="translate(123.3,375.3) rotate(-90)">5.25</text>
<text transform="translate(131.7,375.3) rotate(-90)">5.35</text>
<text transform="translate(137.7,375.3) rotate(-90)">5.46</text>
<text transform="translate(145,375.3) rotate(-90)">5.47</text>
<text transform="translate(148,375.3) rotate(-90)">5.57</text>
<text transform="translate(152,375.3) rotate(-90)">5.65</text>
<text transform="translate(155,375.3) rotate(-90)">5.725</text>
<text transform="translate(158,375.3) rotate(-90)">5.83</text>
<text transform="translate(163.3,375.3) rotate(-90)">5.85</text>
<text transform="translate(167,375.3) rotate(-90)">5.925</text>
<text transform="translate(175,375.3) rotate(-90)">6.7</text>
<text transform="translate(182.7,375.3) rotate(-90)">7.075</text>
<text transform="translate(190.3,375.3) rotate(-90)">7.145</text>
<text transform="translate(208.7,375.3) rotate(-90)">7.25</text>
<text transform="translate(222.7,375.3) rotate(-90)">7.3</text>
<text transform="translate(227.7,375.3) rotate(-90)">7.375</text>
<text transform="translate(231,375.3) rotate(-90)">7.45</text>
<text transform="translate(241,375.3) rotate(-90)">7.55</text>
<text transform="translate(246,375.3) rotate(-90)">7.75</text>
<text transform="translate(251,375.3) rotate(-90)">7.85</text>
<text transform="translate(256.7,375.3) rotate(-90)">7.9</text>
<text transform="translate(265.3,375.3) rotate(-90)">8.025</text>
<text transform="translate(273.7,375.3) rotate(-90)">8.175</text>
<text transform="translate(288.7,375.3) rotate(-90)">8.5</text>
<text transform="translate(298.7,375.3) rotate(-90)">8.75</text>
<text transform="translate(302,375.3) rotate(-90)">8.85</text>
<text transform="translate(322.7,375.3) rotate(-90)">9.3</text>
<text transform="translate(332,375.3) rotate(-90)">9.5</text>
<text transform="translate(343.7,375.3) rotate(-90)">9.8</text>
<text transform="translate(352.7,375.3) rotate(-90)">10</text>
<text transform="translate(356,375.3) rotate(-90)">10.45</text>
<text transform="translate(365,375.3) rotate(-90)">10.5</text>
<text transform="translate(369.6,375.3) rotate(-90)">10.68</text>
<text transform="translate(398,375.3) rotate(-90)">11.7</text>
<text transform="translate(410,375.3) rotate(-90)">12.2</text>
<text transform="translate(423.5,375.3) rotate(-90)">12.75</text>
<text transform="translate(459,375.3) rotate(-90)">13.25</text>
<text transform="translate(467,375.3) rotate(-90)">13.4</text>
<text transform="translate(480,375.3) rotate(-90)">13.75</text>
<text transform="translate(498.5,375.3) rotate(-90)">14</text>
<text transform="translate(506,375.3) rotate(-90)">14.3</text>
<text transform="translate(537,375.3) rotate(-90)">15.4</text>
<text transform="translate(589,375.3) rotate(-90)">17.3</text>
<text transform="translate(597.6,375.3) rotate(-90)">17.7</text>
<text transform="translate(604,375.3) rotate(-90)">21.2</text>
<text transform="translate(670,375.3) rotate(-90)">21.4</text>
<text transform="translate(690,375.3) rotate(-90)">22</text>
<text transform="translate(708,375.3) rotate(-90)">22.21</text>
</g>

<!-- EHF -->
<g class="bar" transform="translate(0,436.3)">
<rect class="SF" x="45" width="4" height="29.5"/>
<rect class="F" x="49" width="4" height="29.5"/>
<rect class="NA" x="53" width="23" height="29.5"/>
<rect class="F" x="76" width="18" height="14.6"/>
<rect class="M" x="76" y="14.6" width="18" height="14.9"/>
<rect class="F" x="94" width="21" height="29.5"/>
<rect class="NA" x="115" width="22" height="29.5"/>
<rect class="M" x="137" width="11.5" height="29.5"/>
<rect class="NA" x="148.5" width="570.5" height="29.5"/>
<rect x="45" width="674" height="29.5" fill="none" style="stroke-width:1"/>
</g>
<g class="t">
<text transform="translate(50,434.3) rotate(-90)">31</text>
<text transform="translate(53.5,434.3) rotate(-90)">31.3</text>
<text transform="translate(77,434.3) rotate(-90)">33</text>
<text transform="translate(95,434.3) rotate(-90)">36</text>
<text transform="translate(116,434.3) rotate(-90)">40</text>
<text transform="translate(138,434.3) rotate(-90)">42.5</text>
<text transform="translate(149.5,434.3) rotate(-90)">47</text>
</g>

<!-- Info text -->
<g class="it">
<text x="45" y="492">For more information on the specific usage of the frequency spectrum,</text>
<text x="45" y="496.5">please contact:</text>
<text x="45" y="506">Infocomm Media Development Authority of Singapore (IMDA)</text>
<text x="45" y="510.5">Email:  spectrum_admin@imda.gov.sg</text>
<text x="45" y="519.5">Updated: August 2021</text>
</g>

<!-- Legend -->
<g class="lg">
<rect x="174.5" y="483.5" width="545" height="47" fill="#fff" stroke="#a0a0a0" stroke-width="1"/>
<text transform="translate(184,507) rotate(-90)" font-size="6.5" font-weight="bold" fill="#222" text-anchor="middle">LEGEND</text>

<rect class="sw F" x="187.7" y="490" width="41.5" height="14.3"/>
<text class="lt" x="208.45" y="498.6">FIXED</text>
<rect class="sw M" x="233.85" y="490" width="41.5" height="14.3"/>
<text class="lt" x="254.6" y="498.6">MOBILE</text>
<rect class="sw AM" x="280" y="490" width="41.5" height="14.3"/>
<text class="lt" x="300.75" y="496.6">AERONAUTICAL</text>
<text class="lt" x="300.75" y="500.6">MOBILE</text>
<rect class="sw RN" x="326.15" y="490" width="41.5" height="14.3"/>
<text class="lt" x="346.9" y="498.6">RADIONAVIGATION</text>
<rect class="sw AR" x="372.3" y="490" width="41.5" height="14.3"/>
<text class="lt" x="393.05" y="496.6">AERONAUTICAL</text>
<text class="lt" x="393.05" y="500.6">RADIONAVIGATION</text>
<rect class="sw B" x="418.45" y="490" width="41.5" height="14.3"/>
<text class="lt" x="439.2" y="498.6">BROADCASTING</text>
<rect class="sw EE" x="464.6" y="490" width="41.5" height="14.3"/>
<text class="lt" x="485.35" y="494.8">EARTH</text>
<text class="lt" x="485.35" y="498.5">EXPLORATION</text>
<text class="lt" x="485.35" y="502.2">SATELLITE</text>
<rect class="sw SF" x="510.75" y="490" width="41.5" height="14.3"/>
<text class="lt" x="531.5" y="494.8">STANDARD</text>
<text class="lt" x="531.5" y="498.5">FREQUENCY AND</text>
<text class="lt" x="531.5" y="502.2">TIME SIGNAL</text>
<rect class="sw A" x="556.9" y="490" width="41.5" height="14.3"/>
<text class="lt" x="577.65" y="498.6">AMATEUR</text>
<rect class="sw NA" x="603.05" y="490" width="41.5" height="14.3"/>
<rect x="610" y="494" width="27.5" height="6" fill="#fff" stroke="#666" stroke-width=".4"/>
<text x="623.8" y="498.3" font-size="3.6" font-style="italic" fill="#333" text-anchor="middle">Not allocated</text>

<rect class="sw FS" x="187.7" y="510" width="41.5" height="14.3"/>
<text class="lt" x="208.45" y="516.6">FIXED</text>
<text class="lt" x="208.45" y="520.6">SATELLITE</text>
<rect class="sw LM" x="233.85" y="510" width="41.5" height="14.3"/>
<text class="lt" x="254.6" y="518.6">LAND MOBILE</text>
<rect class="sw MM" x="280" y="510" width="41.5" height="14.3"/>
<text class="lt" x="300.75" y="518.6">MARITIME MOBILE</text>
<rect class="sw RL" x="326.15" y="510" width="41.5" height="14.3"/>
<text class="lt" x="346.9" y="518.6">RADIOLOCATION</text>
<rect class="sw MR" x="372.3" y="510" width="41.5" height="14.3"/>
<text class="lt" x="393.05" y="516.6">MARITIME</text>
<text class="lt" x="393.05" y="520.6">RADIONAVIGATION</text>
<rect class="sw MA" x="418.45" y="510" width="41.5" height="14.3"/>
<text class="lt" x="439.2" y="516.6">METEOROLOGICAL</text>
<text class="lt" x="439.2" y="520.6">AIDS</text>
<rect class="sw MS" x="464.6" y="510" width="41.5" height="14.3"/>
<text class="lt" x="485.35" y="516.6">METEOROLOGICAL</text>
<text class="lt" x="485.35" y="520.6">SATELLITE</text>
<rect class="sw SR" x="510.75" y="510" width="41.5" height="14.3"/>
<text class="lt" x="531.5" y="516.6">SPACE</text>
<text class="lt" x="531.5" y="520.6">RESEARCH</text>
<rect class="sw RA" x="556.9" y="510" width="41.5" height="14.3"/>
<text class="lt" x="577.65" y="516.6">RADIO</text>
<text class="lt" x="577.65" y="520.6">ASTRONOMY</text>
<rect class="sw" x="603.05" y="510" width="41.5" height="14.3" fill="url(#sg)"/>
<rect x="608" y="514" width="31.5" height="6" fill="#fff" stroke="#666" stroke-width=".4"/>
<text x="623.8" y="518.3" font-size="3.6" font-style="italic" fill="#333" text-anchor="middle">Secondary Service</text>

<line x1="650.7" y1="486" x2="650.7" y2="527" stroke="#999" stroke-width=".6"/>
<g fill="#222">
<rect x="656.8" y="488.6" width="0.8" height="4.6"/>
<rect x="656.8" y="494.8" width="0.8" height="4.6"/>
<rect x="656.8" y="500.8" width="0.8" height="3"/>
<rect x="655" y="503.8" width="4.5" height="0.8"/>
<rect x="655.3" y="510" width="3.8" height="1"/>
<rect x="656.7" y="508.6" width="1" height="3.8"/>
<circle cx="657.2" cy="516.3" r="0.9"/>
</g>
<text x="655" y="523.6" font-size="3.6" font-weight="bold" fill="#333">OR</text>
<text class="nt" x="663" y="492">satellite (Earth-to-space)</text>
<text class="nt" x="663" y="498">satellite (space-to-Earth)</text>
<text class="nt" x="663" y="504.4">satellite (space-to-space)</text>
<text class="nt" x="663" y="511.3">except Aeronautical Mobile</text>
<text class="nt" x="663" y="517.3">Route</text>
<text class="nt" x="663" y="523.6">Off-route</text>
</g>
</svg>
</body></html>
